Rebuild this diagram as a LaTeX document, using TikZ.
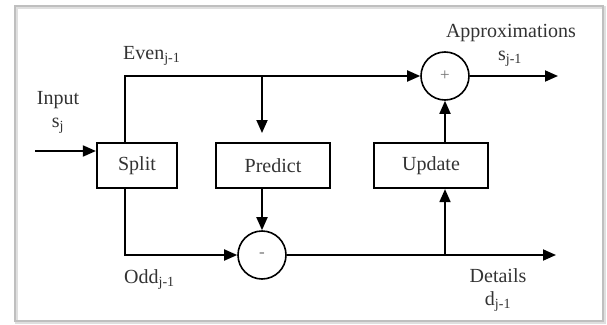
\documentclass[tikz,border=0pt]{standalone}
\usepackage{fontspec}
\setmainfont{Liberation Serif}
\usetikzlibrary{arrows.meta}
\begin{document}
\begin{tikzpicture}[x=1pt,y=-1pt,
  blk/.style={draw, line width=2.2pt, minimum height=45pt, inner sep=0pt, font=\fontsize{20}{22}\selectfont, text=black!80},
  sumnode/.style={draw, circle, line width=1.6pt, minimum size=48pt, inner sep=0pt, font=\fontsize{17}{17}\selectfont, text=black!55},
  lbl/.style={font=\fontsize{20}{22}\selectfont, text=black!80, inner sep=0pt},
  wire/.style={line width=1.8pt},
  arr/.style={wire, -{Triangle[length=13pt,width=11pt]}},
]
\useasboundingbox (0,0) rectangle (607,324);
\fill[white] (0,0) rectangle (607,324);
\draw[gray!25, line width=3pt] (16,7) rectangle (604,322);
\draw[gray!50, line width=1.2pt] (15,6) rectangle (603,321);

\node[blk, minimum width=80pt] (split) at (137,165.5) {Split};
\node[blk, minimum width=114pt] (predict) at (273,165.5) {Predict};
\node[blk, minimum width=114pt] (update) at (431,165.5) {Update};
\node[sumnode] (plus) at (445,76) {+};
\node[sumnode] (minus) at (262,255) {-};

\coordinate (in) at (35,151);
\coordinate (ev) at (125,76);
\coordinate (od) at (125,255);
\coordinate (pd) at (262,133);
\coordinate (aout) at (558,76);
\coordinate (dout) at (556,255);

\draw[arr] (in) -- (split.west |- in);
\draw[arr] (split.north -| ev) -- (ev) -- (plus.west);
\draw[arr] (ev -| pd) -- (pd);
\draw[arr] (split.south -| od) -- (od) -- (minus.west);
\draw[arr] (predict.south -| minus) -- (minus.north);
\draw[arr] (minus.east) -- (dout);
\draw[arr] (minus.east -| plus) -- (update.south -| plus);
\draw[arr] (update.north -| plus) -- (plus.south);
\draw[arr] (plus.east) -- (aout);

\node[lbl, anchor=base west] (evl) at (123,59) {Even\textsubscript{j-1}};
\node[lbl, anchor=base] (inl) at (58,104) {Input};
\node[lbl, anchor=base] (sjl) at (58,127) {s\textsubscript{j}};
\node[lbl, anchor=base] (apl) at (511,37) {Approximations};
\node[lbl, anchor=base] (sj1l) at (510,60) {s\textsubscript{j-1}};
\node[lbl, anchor=base west] (odl) at (124,283) {Odd\textsubscript{j-1}};
\node[lbl, anchor=base] (dtl) at (498,282) {Details};
\node[lbl, anchor=base] (djl) at (498,305) {d\textsubscript{j-1}};
\end{tikzpicture}
\end{document}
